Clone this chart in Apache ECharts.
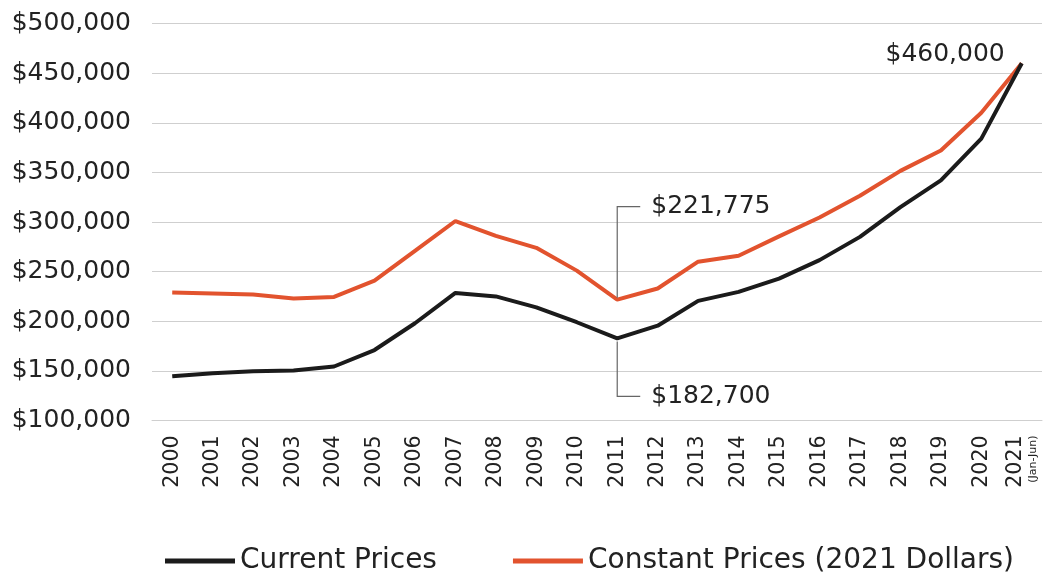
<!DOCTYPE html>
<html>
<head>
<meta charset="utf-8">
<script src="https://cdn.jsdelivr.net/npm/echarts@6/dist/echarts.min.js"></script>
<style>
html,body{margin:0;padding:0;background:#fff;}
#chart{width:1056px;height:577px;}
</style>
</head>
<body>
<div id="chart"></div>
<script>
const years = ['2000','2001','2002','2003','2004','2005','2006','2007','2008','2009','2010','2011','2012','2013','2014','2015','2016','2017','2018','2019','2020','2021'];
const currentPrices = [144500,147700,149700,150400,154400,171000,198000,228500,225000,214000,199000,182700,195500,220500,229600,243000,261600,285000,315000,342000,384000,460000];
const constantPrices = [229000,228000,227000,223000,224500,241000,271000,301000,286000,274000,251000,221775,233000,260000,266000,285500,304500,326500,351500,372000,410000,460000];
const seriesNames = ['Current Prices', 'Constant Prices (2021 Dollars)'];
const lastYearNote = '(Jan-Jun)';
// [category index, value, label text, callout kind]
const annotations = [
  [11, 221775, '$221,775', 'up'],
  [11, 182700, '$182,700', 'down'],
  [21, 460000, '$460,000', 'end']
];

const FONT = '"DejaVu Sans", sans-serif';
const chart = echarts.init(document.getElementById('chart'));

chart.setOption({
  animation: false,
  backgroundColor: '#ffffff',
  grid: { left: 152, right: 14, top: 23.5, bottom: 156.5 },
  legend: {
    data: seriesNames,
    left: 160,
    top: 542,
    itemWidth: 70,
    itemHeight: 5,
    itemGap: 76,
    icon: 'rect',
    textStyle: { fontFamily: FONT, fontSize: 28, color: '#222' }
  },
  xAxis: {
    type: 'category',
    data: years,
    boundaryGap: true,
    axisLine: { show: true, lineStyle: { color: '#cfcfcf', width: 1 } },
    axisTick: { show: false },
    axisLabel: {
      rotate: 90,
      margin: 15,
      interval: 0,
      color: '#222',
      fontFamily: FONT,
      fontSize: 20.5,
      formatter: function (v, i) {
        if (i === years.length - 1) return '{a|' + v + '}\n{b|' + lastYearNote + '}';
        return v;
      },
      rich: {
        a: { fontFamily: FONT, fontSize: 20.5, color: '#222', lineHeight: 22 },
        b: { fontFamily: FONT, fontSize: 11, color: '#222', lineHeight: 12 }
      }
    }
  },
  yAxis: {
    type: 'value',
    min: 100000,
    max: 500000,
    interval: 50000,
    axisLine: { show: false },
    axisTick: { show: false },
    splitLine: { show: true, lineStyle: { color: '#cfcfcf', width: 1 } },
    axisLabel: {
      margin: 21,
      color: '#222',
      fontFamily: FONT,
      fontSize: 25,
      formatter: function (v) { return '$' + v.toLocaleString('en-US'); }
    }
  },
  series: [
    {
      name: seriesNames[0],
      type: 'line',
      data: currentPrices,
      showSymbol: false,
      symbol: 'none',
      lineStyle: { color: '#1b1b1b', width: 4 },
      itemStyle: { color: '#1b1b1b' },
      z: 3
    },
    {
      name: seriesNames[1],
      type: 'line',
      data: constantPrices,
      showSymbol: false,
      symbol: 'none',
      lineStyle: { color: '#e2532e', width: 4 },
      itemStyle: { color: '#e2532e' },
      z: 2
    },
    {
      type: 'custom',
      silent: true,
      clip: false,
      z: 5,
      data: annotations,
      encode: { x: 0, y: 1 },
      renderItem: function (params, api) {
        const p = api.coord([api.value(0), api.value(1)]);
        const a = annotations[params.dataIndex];
        const text = a[2], kind = a[3];
        const children = [];
        const txtStyle = { fontFamily: FONT, fontSize: 25, fill: '#222' };
        if (kind === 'up' || kind === 'down') {
          const ly = kind === 'up' ? p[1] - 93 : p[1] + 58;
          const y0 = kind === 'up' ? p[1] - 2 : p[1] + 3;
          children.push({
            type: 'polyline',
            shape: { points: [[p[0], y0], [p[0], ly], [p[0] + 23, ly]] },
            style: { stroke: '#666', lineWidth: 1.2, fill: null }
          });
          children.push({
            type: 'text',
            style: Object.assign({ text: text, x: p[0] + 34, y: ly, align: 'left', verticalAlign: 'middle' }, txtStyle)
          });
        } else {
          children.push({
            type: 'text',
            style: Object.assign({ text: text, x: p[0] - 17, y: p[1] - 9, align: 'right', verticalAlign: 'middle' }, txtStyle)
          });
        }
        return { type: 'group', children: children };
      }
    }
  ]
});
</script>
</body>
</html>
